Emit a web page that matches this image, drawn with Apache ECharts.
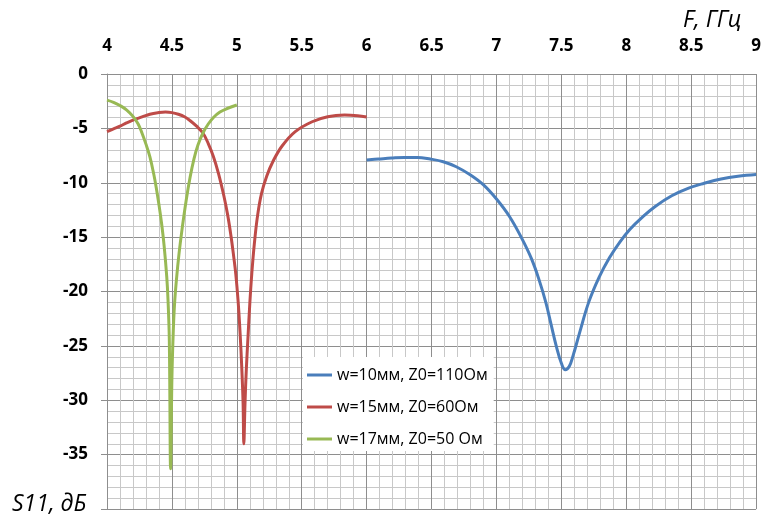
<!DOCTYPE html>
<html>
<head>
<meta charset="utf-8">
<title>S11</title>
<script src="https://cdn.jsdelivr.net/npm/echarts@6/dist/echarts.min.js"></script>
<style>
  html, body { margin: 0; padding: 0; background: #ffffff; }
  #chart { width: 764px; height: 526px; }
</style>
</head>
<body>
<div id="chart"></div>
<script>
// Series names (legend entries)
const seriesNames = ['w=10мм, Z0=110Ом', 'w=15мм, Z0=60Ом', 'w=17мм, Z0=50 Ом'];

// w=10 mm, Z0=110 Ohm : frequency (GHz) and S11 (dB)
const freq10 = [6.00, 6.09, 6.19, 6.29, 6.39, 6.49, 6.59, 6.69, 6.80, 6.90, 7.00, 7.10, 7.19, 7.27, 7.33, 7.38, 7.42, 7.46, 7.50, 7.53, 7.56, 7.59, 7.64, 7.71, 7.79, 7.87, 7.95, 8.03, 8.12, 8.22, 8.35, 8.48, 8.60, 8.73, 8.86, 9.00];
const s11_10 = [-7.90, -7.82, -7.73, -7.67, -7.67, -7.82, -8.07, -8.53, -9.29, -10.20, -11.50, -13.10, -15.00, -17.00, -19.00, -21.00, -23.00, -25.00, -26.60, -27.20, -26.90, -25.90, -23.80, -21.00, -18.70, -16.90, -15.45, -14.25, -13.20, -12.20, -11.20, -10.50, -10.05, -9.65, -9.40, -9.25];

// w=15 mm, Z0=60 Ohm
const freq15 = [4.00, 4.05, 4.10, 4.15, 4.20, 4.27, 4.33, 4.40, 4.45, 4.50, 4.55, 4.60, 4.635, 4.69, 4.74, 4.78, 4.82, 4.86, 4.90, 4.93, 4.955, 4.975, 4.992, 5.01, 5.025, 5.038, 5.048, 5.054, 5.063, 5.073, 5.086, 5.10, 5.115, 5.135, 5.16, 5.19, 5.23, 5.28, 5.35, 5.45, 5.58, 5.70, 5.83, 5.93, 6.00];
const s11_15 = [-5.30, -5.05, -4.80, -4.50, -4.24, -3.95, -3.70, -3.55, -3.50, -3.55, -3.70, -3.95, -4.24, -4.80, -5.45, -6.40, -7.60, -9.20, -11.20, -13.00, -14.90, -16.70, -18.40, -20.90, -23.80, -27.00, -30.20, -34.00, -30.30, -27.20, -24.20, -21.10, -18.40, -15.60, -13.00, -11.00, -9.40, -8.00, -6.60, -5.30, -4.39, -3.93, -3.78, -3.84, -3.96];

// w=17 mm, Z0=50 Ohm
const freq17 = [4.00, 4.05, 4.10, 4.15, 4.20, 4.24, 4.27, 4.30, 4.33, 4.36, 4.38, 4.40, 4.42, 4.44, 4.46, 4.47, 4.48, 4.49, 4.50, 4.51, 4.52, 4.535, 4.555, 4.58, 4.61, 4.64, 4.67, 4.70, 4.74, 4.78, 4.82, 4.87, 4.93, 5.00];
const s11_17 = [-2.40, -2.60, -2.90, -3.30, -3.90, -4.60, -5.45, -6.45, -7.60, -9.20, -10.50, -12.00, -13.70, -15.80, -18.60, -20.80, -24.50, -36.30, -28.00, -23.80, -21.20, -18.90, -16.50, -14.10, -11.60, -9.50, -7.80, -6.55, -5.40, -4.60, -4.00, -3.50, -3.15, -2.85];

// Axis ranges and titles
const xMin = 4, xMax = 9, xStep = 0.5;
const yMin = -40, yMax = 0, yStep = 5;
const xTitle = 'F, ГГц';
const yTitle = 'S11, дБ';

const colors = ['#4a7ebb', '#be4b48', '#98b954'];

function zip(xs, ys) { return xs.map((x, i) => [x, ys[i]]); }

const chart = echarts.init(document.getElementById('chart'), null, { renderer: 'canvas' });

const majorGrid = '#8e8e8e';
const minorGrid = '#c8c8c8';
const fontMain = '"Open Sans", "Noto Sans", sans-serif';

chart.setOption({
  animation: false,
  backgroundColor: '#ffffff',
  grid: { left: 107, right: 7, top: 74, bottom: 17, containLabel: false },
  xAxis: {
    type: 'value',
    position: 'top',
    min: xMin, max: xMax, interval: xStep,
    axisLine: { show: true, lineStyle: { color: majorGrid, width: 1 } },
    axisTick: { show: false },
    minorTick: { show: false, splitNumber: 5 },
    splitLine: { show: true, lineStyle: { color: majorGrid, width: 1 } },
    minorSplitLine: { show: true, lineStyle: { color: minorGrid, width: 1 } },
    axisLabel: {
      margin: 19,
      color: '#000000',
      fontFamily: fontMain,
      fontWeight: 'bold',
      fontSize: 17,
      formatter: v => String(v)
    }
  },
  yAxis: {
    type: 'value',
    min: yMin, max: yMax, interval: yStep,
    axisLine: { show: true, lineStyle: { color: majorGrid, width: 1 } },
    axisTick: { show: true, length: 6, lineStyle: { color: majorGrid } },
    minorTick: { show: false, splitNumber: 5 },
    splitLine: { show: true, lineStyle: { color: majorGrid, width: 1 } },
    minorSplitLine: { show: true, lineStyle: { color: minorGrid, width: 1 } },
    axisLabel: {
      margin: 19,
      color: '#000000',
      fontFamily: fontMain,
      fontWeight: 'bold',
      fontSize: 17,
      formatter: v => (v === yMin ? '' : String(v))
    }
  },
  legend: {
    orient: 'vertical',
    left: 303,
    top: 357,
    backgroundColor: '#ffffff',
    padding: [8, 6, 2, 4],
    itemGap: 12,
    icon: 'rect',
    itemWidth: 25,
    itemHeight: 3,
    textStyle: { fontFamily: fontMain, fontSize: 16, color: '#000000', lineHeight: 20 },
    data: seriesNames
  },
  graphic: [
    {
      type: 'text',
      left: 683, top: 9,
      style: { text: xTitle, font: 'italic 23px "Open Sans", sans-serif', fill: '#000000' }
    },
    {
      type: 'text',
      left: 12, top: 493,
      style: { text: yTitle, font: 'italic 23px "Open Sans", sans-serif', fill: '#000000' }
    }
  ],
  series: [
    { name: seriesNames[0], data: zip(freq10, s11_10) },
    { name: seriesNames[1], data: zip(freq15, s11_15) },
    { name: seriesNames[2], data: zip(freq17, s11_17) }
  ].map((s, i) => ({
    type: 'line',
    name: s.name,
    data: s.data,
    showSymbol: false,
    symbol: 'none',
    smooth: 0.4,
    color: colors[i],
    lineStyle: { color: colors[i], width: 3 },
    z: 2 + i
  }))
});
</script>
</body>
</html>
